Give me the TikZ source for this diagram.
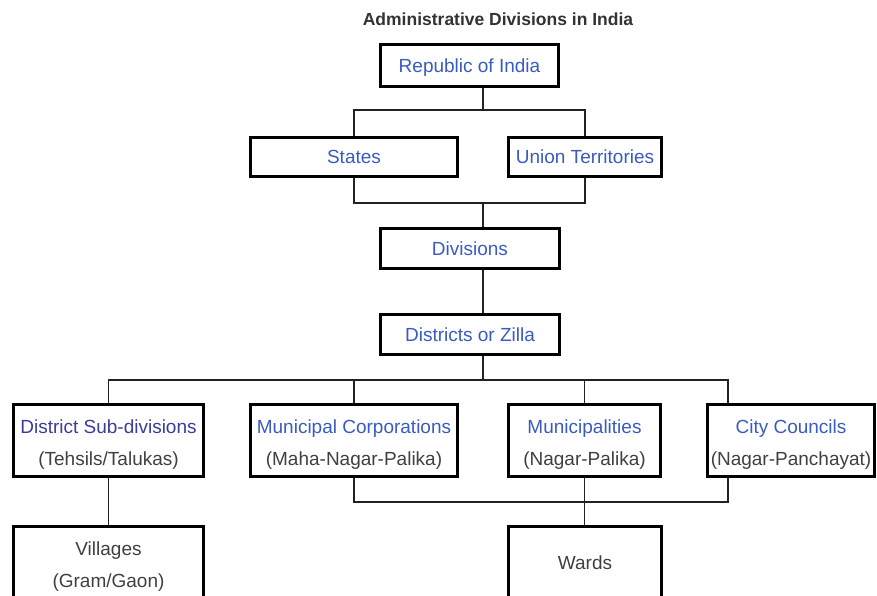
\documentclass[tikz,border=0pt]{standalone}
\usepackage{fontspec}
\setmainfont{Liberation Sans}
\definecolor{tblue}{HTML}{3A5BC0}
\definecolor{tnavy}{HTML}{3C3C9A}
\definecolor{tgray}{HTML}{404040}
\definecolor{tdark}{HTML}{333333}
\definecolor{lcol}{HTML}{222222}
\newcommand\mysingle{\rule[-5pt]{0pt}{23.6pt}}
\newcommand\mytop{\rule{0pt}{22.2pt}}
\newcommand\mybot{\rule[-5pt]{0pt}{5pt}}
\begin{document}
\begin{tikzpicture}[x=1pt,y=-1pt,
  box/.style n args={2}{draw=black, line width=3pt, fill=white, inner sep=0pt,
    minimum width=#1, minimum height=#2, align=center,
    font=\fontsize{19}{32}\selectfont},
  one/.style={execute at begin node=\mysingle},
  conn/.style={draw=lcol, line width=1.5pt},
  hb/.style={text=tblue},
  sub/.style={text=tgray}]
\path[use as bounding box, clip] (0,0) rectangle (877,595);
\fill[white] (0,0) rectangle (877,595);

\node[font=\bfseries\fontsize{17.5}{20}\selectfont, text=tdark] (title) at (498,19) {Administrative Divisions in India};

\node[box={178}{42}, hb, one] (rep) at (469.5,65.5) {Republic of India};
\node[box={207}{39}, hb, one] (states) at (354,157) {States};
\node[box={153}{39}, hb, one] (ut) at (585,157) {Union Territories};
\node[box={179}{40}, hb, one] (div) at (470,248.5) {Divisions};
\node[box={179}{40}, hb, one] (dist) at (470,334.5) {Districts or Zilla};

\node[box={190}{72}] (dsd) at (108.5,440.5) {\mytop{\color{tnavy}District Sub-divisions}\\{\color{tgray}(Tehsils/Talukas)}\mybot};
\node[box={207}{72}] (mc) at (354,440.5) {\mytop{\color{tblue}Municipal Corporations}\\{\color{tgray}(Maha-Nagar-Palika)}\mybot};
\node[box={152}{72}] (mun) at (584.5,440.5) {\mytop{\color{tblue}Municipalities}\\{\color{tgray}(Nagar-Palika)}\mybot};
\node[box={167}{72}] (cc) at (791,440.5) {\mytop{\color{tblue}City Councils}\\{\color{tgray}(Nagar-Panchayat)}\mybot};

\node[box={190}{73}, sub] (vil) at (108.5,563) {\mytop Villages\\(Gram/Gaon)\mybot};
\node[box={153}{73}, sub, one] (wards) at (585,563) {Wards};

% connectors
\coordinate (j1) at (483,110);
\coordinate (j2) at (483,203);
\coordinate (j3) at (483,380);
\coordinate (j4) at (728,380);
\coordinate (j6) at (728,502);

\draw[conn] (rep.south -| j1) -- (j1);
\draw[conn] (states.north) |- (j1) -| (ut.north);
\draw[conn] (states.south) |- (j2) -| (ut.south);
\draw[conn] (j2) -- (div.north -| j2);
\draw[conn] (div.south -| j2) -- (dist.north -| j2);
\draw[conn] (dist.south -| j3) -- (j3);
\draw[conn] (dsd.north) |- (j4) -- (cc.north -| j4);
\draw[conn] (mc.north) -- (mc.north |- j3);
\draw[conn] (mun.north) -- (mun.north |- j3);
\draw[conn] (mc.south) |- (j6) -- (cc.south -| j6);
\draw[conn] (mun.south) -- (wards.north -| mun.south);
\draw[conn] (dsd.south) -- (vil.north);
\end{tikzpicture}
\end{document}
